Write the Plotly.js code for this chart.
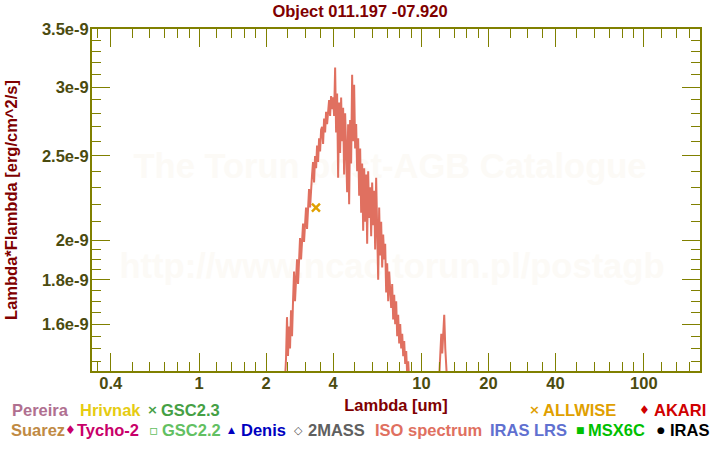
<!DOCTYPE html>
<html>
<head>
<meta charset="utf-8">
<script src="https://cdn.plot.ly/plotly-3.0.1.min.js"></script>
<style>html,body{margin:0;padding:0;background:#fff;}#chart{width:720px;height:450px;}</style>
</head>
<body>
<div id="chart"></div>
<script>
// ISO spectrum (wavelength in um, lambda*F_lambda in erg/cm^2/s)
const isoWavelength = [2.407,2.432,2.458,2.483,2.509,2.535,2.562,2.589,2.616,2.643,2.671,2.698,2.727,2.755,2.784,2.813,2.842,2.872,2.902,2.932,2.962,2.993,3.024,3.056,3.088,3.120,3.153,3.186,3.219,3.252,3.286,3.321,3.356,3.390,3.426,3.462,3.498,3.534,3.571,3.608,3.646,3.684,3.722,3.761,3.800,3.840,3.880,3.920,3.961,4.003,4.044,4.087,4.129,4.172,4.216,4.260,4.304,4.349,4.394,4.440,4.486,4.533,4.580,4.628,4.676,4.725,4.774,4.824,4.874,4.925,4.976,5.029,5.081,5.134,5.188,5.242,5.296,5.352,5.407,5.464,5.521,5.578,5.636,5.695,5.754,5.814,5.875,5.936,5.997,6.060,6.123,6.186,6.251,6.317,6.383,6.449,6.516,6.584,6.653,6.722,6.792,6.863,6.934,7.007,7.080,7.153,7.228,7.303,7.379,7.456,7.534,7.612,7.691,7.771,7.852,7.936,8.018,8.101,8.186,8.271,8.357,8.444,8.532,8.621,8.711,8.80,8.895,9.865,10.95,11.89,12.14,12.27,12.39,12.52,12.65,12.79,12.92,13.06,13.19,14.19,16.57];
const isoFlux = [1.30e-9,1.38e-9,1.46e-9,1.63e-9,1.47e-9,1.59e-9,1.50e-9,1.66e-9,1.55e-9,1.70e-9,1.84e-9,1.70e-9,1.80e-9,1.90e-9,1.78e-9,1.95e-9,2.01e-9,1.90e-9,2.04e-9,2.09e-9,1.99e-9,2.13e-9,2.18e-9,2.06e-9,2.24e-9,2.29e-9,2.18e-9,2.33e-9,2.38e-9,2.46e-9,2.33e-9,2.50e-9,2.42e-9,2.57e-9,2.46e-9,2.62e-9,2.53e-9,2.68e-9,2.70e-9,2.58e-9,2.76e-9,2.66e-9,2.81e-9,2.72e-9,2.85e-9,2.90e-9,2.78e-9,2.93e-9,2.83e-9,2.92e-9,2.78e-9,3.16e-9,2.66e-9,2.95e-9,2.36e-9,2.88e-9,2.52e-9,2.92e-9,2.60e-9,2.84e-9,2.38e-9,2.80e-9,2.55e-9,2.27e-9,2.72e-9,2.20e-9,2.75e-9,2.45e-9,3.10e-9,2.60e-9,3.02e-9,2.55e-9,2.72e-9,2.40e-9,2.62e-9,2.25e-9,2.55e-9,2.15e-9,2.45e-9,2.05e-9,2.42e-9,2.10e-9,2.38e-9,1.98e-9,2.40e-9,2.12e-9,2.30e-9,2.02e-9,2.33e-9,2.08e-9,2.28e-9,1.95e-9,2.36e-9,2.05e-9,1.80e-9,2.18e-9,1.92e-9,2.10e-9,1.86e-9,2.03e-9,1.90e-9,1.98e-9,1.74e-9,1.88e-9,1.70e-9,1.84e-9,1.76e-9,1.67e-9,1.78e-9,1.62e-9,1.73e-9,1.60e-9,1.70e-9,1.55e-9,1.64e-9,1.52e-9,1.60e-9,1.50e-9,1.56e-9,1.47e-9,1.53e-9,1.44e-9,1.49e-9,1.40e-9,1.45e-9,1.36e-9,1.30e-9,1.22e-9,1.25e-9,1.32e-9,1.45e-9,1.56e-9,1.48e-9,1.58e-9,1.64e-9,1.50e-9,1.43e-9,1.36e-9,1.30e-9,1.20e-9,1.10e-9];

// ALLWISE photometry
const allwiseWavelength = [3.35];
const allwiseFlux = [2.18e-9];

// Axis ticks
const xMajorTicks = [0.4, 1, 2, 4, 10, 20, 40, 100];
const xMajorLabels = ['0.4', '1', '2', '4', '10', '20', '40', '100'];
const xMinorTicks = [0.35,0.5,0.6,0.7,0.8,0.9,1.2,1.4,1.6,1.8,2.5,3,3.5,5,6,7,8,9,12,14,16,18,25,30,35,50,60,70,80,90,120,140,160];
const yMajorTicks = [1.6e-9, 1.8e-9, 2e-9, 2.5e-9, 3e-9, 3.5e-9];
const yMajorLabels = ['1.6e-9', '1.8e-9', '2e-9', '2.5e-9', '3e-9', '3.5e-9'];
const yMinorTicks = [1.45e-9,1.5e-9,1.55e-9,1.65e-9,1.7e-9,1.75e-9,1.85e-9,1.9e-9,1.95e-9,2.1e-9,2.2e-9,2.3e-9,2.4e-9,2.6e-9,2.7e-9,2.8e-9,2.9e-9,3.1e-9,3.2e-9,3.3e-9,3.4e-9];

const xRange = [0.3296, 178.8];
const yRange = [1.413e-9, 3.501e-9];

const FONT = 'Liberation Sans, Arial, Helvetica, sans-serif';
const AX = '#808000';
const TICKTXT = '#4b4b0f';
const DARKRED = '#800000';

const ML = 92, MR = 20, MT = 29, MB = 79, W = 720, H = 450;
const PW = W - ML - MR, PH = H - MT - MB;
function px(x) { return (x - ML) / PW; }
function py(y) { return (H - MB - y) / PH; }

const legendItems = [
  {t: 'Pereira', c: '#b07090', x: 10, y: 410},
  {t: 'Hrivnak', c: '#e6cc12', x: 78, y: 410},
  {t: '×', c: '#45a045', x: 145, y: 410, s: 13},
  {t: 'GSC2.3', c: '#45a045', x: 159, y: 410},
  {t: '×', c: '#e0a000', x: 527, y: 410, s: 13},
  {t: 'ALLWISE', c: '#e0a000', x: 541, y: 410},
  {t: '♦', c: '#d00000', x: 637, y: 410, s: 12},
  {t: 'AKARI', c: '#d00000', x: 652, y: 410},
  {t: 'Suarez', c: '#c08a44', x: 9, y: 430},
  {t: '♦', c: '#c8006a', x: 63, y: 430, s: 12},
  {t: 'Tycho-2', c: '#c8006a', x: 75, y: 430},
  {t: '▫', c: '#62c062', x: 147, y: 430, s: 14},
  {t: 'GSC2.2', c: '#62c062', x: 160, y: 430},
  {t: '▲', c: '#0000c0', x: 226, y: 430, s: 9},
  {t: 'Denis', c: '#0000c0', x: 239, y: 430},
  {t: '◇', c: '#555555', x: 292, y: 430, s: 11},
  {t: '2MASS', c: '#606060', x: 306, y: 430},
  {t: 'ISO spectrum', c: '#e07060', x: 373, y: 430},
  {t: 'IRAS LRS', c: '#6070d0', x: 488, y: 430},
  {t: '■', c: '#00c000', x: 574, y: 430, s: 9},
  {t: 'MSX6C', c: '#00c000', x: 586, y: 430},
  {t: '●', c: '#000000', x: 655, y: 430, s: 9},
  {t: 'IRAS', c: '#000000', x: 668, y: 430}
];

const annotations = legendItems.map(it => ({
  text: '<b>' + it.t + '</b>', xref: 'paper', yref: 'paper',
  x: px(it.x), y: py(it.y), xanchor: 'left', yanchor: 'middle', showarrow: false,
  font: {family: it.s ? 'DejaVu Sans, ' + FONT : FONT, size: it.s || 16.5, color: it.c}
}));

const wmFont = {family: FONT, size: 34.5, color: 'rgb(252,250,246)'};
const shapes = [
  {type: 'rect', xref: 'paper', yref: 'paper', x0: px(100), x1: px(680), y0: py(185), y1: py(140),
   line: {width: 0}, fillcolor: 'rgba(0,0,0,0)', layer: 'below',
   label: {text: '<b>The Torun post-AGB Catalogue</b>', textposition: 'middle center', font: wmFont}},
  {type: 'rect', xref: 'paper', yref: 'paper', x0: px(100), x1: px(684), y0: py(285), y1: py(240),
   line: {width: 0}, fillcolor: 'rgba(0,0,0,0)', layer: 'below',
   label: {text: '<b>http://www.ncac.torun.pl/postagb</b>', textposition: 'middle center', font: wmFont}}
];

const traces = [
  {x: isoWavelength, y: isoFlux, type: 'scatter', mode: 'lines', name: 'ISO spectrum',
   line: {color: '#e07060', width: 2}, hoverinfo: 'x+y'},
  {x: allwiseWavelength, y: allwiseFlux, type: 'scatter', mode: 'markers', name: 'ALLWISE',
   marker: {symbol: 'x-thin-open', size: 8, color: '#e0a000', line: {color: '#e0a000', width: 2.5}}}
];

const tickFont = {family: FONT, size: 16.5, color: TICKTXT, weight: 'bold'};

const layout = {
  width: W, height: H,
  margin: {l: ML, r: MR, t: MT, b: MB, pad: 0},
  paper_bgcolor: '#ffffff', plot_bgcolor: '#ffffff',
  showlegend: false,
  title: {text: '<b>Object 011.197 -07.920</b>', xref: 'container', x: 0.5, xanchor: 'center',
          yref: 'container', y: 1 - 11 / H, yanchor: 'middle',
          font: {family: FONT, size: 16.5, color: DARKRED}},
  xaxis: {
    type: 'log', range: [Math.log10(xRange[0]), Math.log10(xRange[1])],
    showline: true, linecolor: AX, linewidth: 2, mirror: 'allticks',
    ticks: 'inside', ticklen: 18, tickwidth: 1, tickcolor: AX,
    tickmode: 'array', tickvals: xMajorTicks, ticktext: xMajorLabels,
    tickfont: tickFont, showgrid: false, zeroline: false, ticklabelstandoff: -4,
    minor: {tickmode: 'array', tickvals: xMinorTicks, ticks: 'inside', ticklen: 9, tickwidth: 1, tickcolor: AX, showgrid: false},
    title: {text: '<b>Lambda [um]</b>', font: {family: FONT, size: 16.5, color: DARKRED}, standoff: 9}
  },
  yaxis: {
    type: 'log', range: [Math.log10(yRange[0]), Math.log10(yRange[1])],
    showline: true, linecolor: AX, linewidth: 2, mirror: 'allticks',
    ticks: 'inside', ticklen: 18, tickwidth: 1, tickcolor: AX,
    tickmode: 'array', tickvals: yMajorTicks, ticktext: yMajorLabels,
    tickfont: tickFont, showgrid: false, zeroline: false, ticklabelstandoff: -2,
    minor: {tickmode: 'array', tickvals: yMinorTicks, ticks: 'inside', ticklen: 9, tickwidth: 1, tickcolor: AX, showgrid: false},
    title: {text: '<b>Lambda*Flambda [erg/cm^2/s]</b>', font: {family: FONT, size: 16.5, color: DARKRED}, standoff: 20}
  },
  annotations: annotations,
  shapes: shapes
};

Plotly.newPlot('chart', traces, layout, {staticPlot: true, displayModeBar: false});
</script>
</body>
</html>
